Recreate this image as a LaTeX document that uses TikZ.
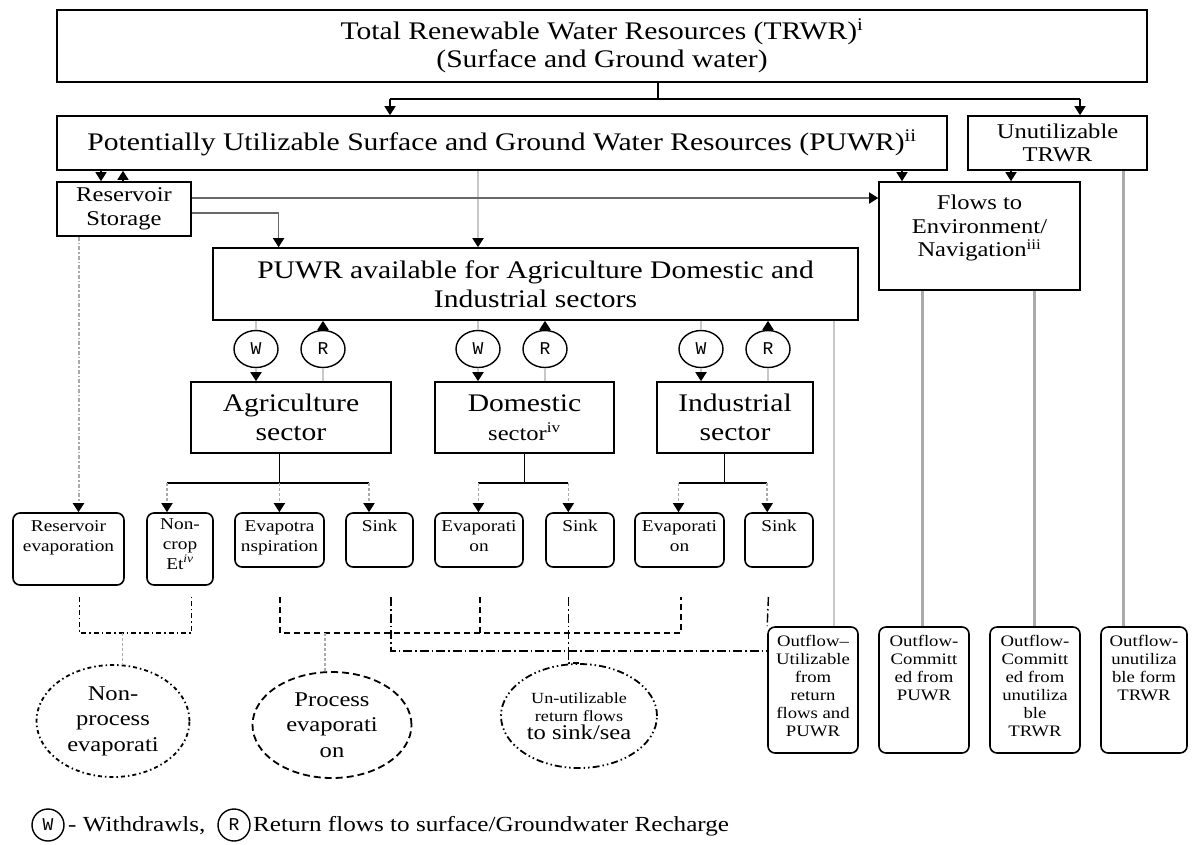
\documentclass[tikz,border=0pt]{standalone}
\usepackage{fontspec}
\setmainfont{Liberation Serif}[FakeStretch=1.17]
\newfontfamily\wrfont{Liberation Mono}
\usetikzlibrary{arrows.meta,shapes.geometric,calc}
\definecolor{lightg}{RGB}{200,200,200}
\definecolor{midg}{RGB}{170,170,170}
\definecolor{darkg}{RGB}{105,105,105}
\newcommand{\fbig}{\fontsize{25.3}{28.5}\selectfont}
\newcommand{\fmed}{\fontsize{21}{23.5}\selectfont}
\newcommand{\fsml}{\fontsize{16.5}{20}\selectfont}
\newcommand{\fout}{\fontsize{16}{18}\selectfont}
\newcommand{\fell}{\fontsize{21}{25.5}\selectfont}
\newcommand{\ftin}{\fontsize{15.5}{18}\selectfont}
\newcommand{\flgd}{\fontsize{21.5}{22}\selectfont}
\begin{document}
\begin{tikzpicture}[x=1pt,y=-1pt,
  box/.style={draw,line width=1.6pt,inner sep=0pt,align=center},
  rbox/.style={draw,line width=1.6pt,rounded corners=7pt,inner sep=0pt},
  txt/.style={inner sep=0pt,align=center},
  wr/.style={draw,ellipse,line width=1.4pt,minimum width=44pt,minimum height=37pt,inner sep=0pt,font=\wrfont\fontsize{18}{18}\selectfont},
  arr/.style={-{Triangle[width=11pt,length=9pt,color=black,fill=black]}},
  conn/.style={line width=1.4pt},
  lg/.style={draw=lightg,line width=1.8pt},
  mg/.style={draw=midg,line width=3pt},
  dg/.style={draw=darkg,line width=1.6pt},
  drop/.style={draw=midg,line width=1.6pt,dash pattern=on 3pt off 2pt},
  resl/.style={draw=midg,line width=2pt,dash pattern=on 4pt off 2pt on 1.5pt off 2pt},
  gdot/.style={draw=midg,line width=1.8pt,dash pattern=on 3pt off 2pt},
  ndash/.style={line width=1.4pt,dash pattern=on 5pt off 3pt on 1.5pt off 3pt},
  pdash/.style={line width=1.4pt,dash pattern=on 6pt off 4pt},
  sdash/.style={line width=1.4pt,dash pattern=on 9pt off 3pt on 1.5pt off 3pt},
  ell/.style={draw,ellipse,line width=1.8pt,inner sep=0pt,align=center}
]
\useasboundingbox (0,0) rectangle (1201,844);
\fill[white] (0,0) rectangle (1201,844);

% ---------- main boxes ----------
\node[box,font=\fbig,minimum width=1090pt,minimum height=72pt] (trwr) at (602,46)
  {Total Renewable Water Resources (TRWR)\textsuperscript{i}\\(Surface and Ground water)};
\node[box,font=\fbig,minimum width=890pt,minimum height=54pt] (puwr) at (502,143)
  {Potentially Utilizable Surface and Ground Water Resources (PUWR)\textsuperscript{ii}};
\node[box,font=\fmed,minimum width=179pt,minimum height=54pt] (unutil) at (1057.5,143)
  {Unutilizable\\TRWR};
\node[box,font=\fmed,minimum width=134pt,minimum height=54pt] (res) at (124,209)
  {Reservoir\\Storage};
\node[box,minimum width=201pt,minimum height=108pt] (flows) at (979.5,236) {};
\node[txt,font=\fmed,anchor=north] (flowst) at (979.5,195)
  {Flows to\\Environment/\\Navigation\textsuperscript{iii}};
\node[box,font=\fbig,minimum width=645pt,minimum height=72pt] (avail) at (535.5,284)
  {PUWR available for Agriculture Domestic and\\Industrial sectors};

% ---------- W / R ----------
\node[wr] (w1) at (256,349) {W};
\node[wr] (r1) at (323,349) {R};
\node[wr] (w2) at (478,349) {W};
\node[wr] (r2) at (545,349) {R};
\node[wr] (w3) at (701,349) {W};
\node[wr] (r3) at (768,349) {R};

% ---------- sectors ----------
\node[box,font=\fbig,minimum width=200pt,minimum height=71pt] (agri) at (291,417.5)
  {Agriculture\\sector};
\node[box,font=\fbig,minimum width=179pt,minimum height=71pt] (dom) at (524.5,417.5)
  {Domestic\\{\fmed sector\textsuperscript{iv}}};
\node[box,font=\fbig,minimum width=156pt,minimum height=71pt] (ind) at (735,417.5)
  {Industrial\\sector};

% ---------- bottom boxes ----------
\node[rbox,minimum width=111pt,minimum height=72pt] (resev) at (68.5,549) {};
\node[rbox,minimum width=66pt,minimum height=72pt] (noncrop) at (180,549) {};
\node[rbox,minimum width=89pt,minimum height=54pt] (evapotra) at (279.5,540) {};
\node[rbox,minimum width=67pt,minimum height=54pt] (sinka) at (379.5,540) {};
\node[rbox,minimum width=88pt,minimum height=54pt] (evapd) at (479,540) {};
\node[rbox,minimum width=68pt,minimum height=54pt] (sinkd) at (580,540) {};
\node[rbox,minimum width=89pt,minimum height=54pt] (evapi) at (679.5,540) {};
\node[rbox,minimum width=68pt,minimum height=54pt] (sinki) at (779,540) {};
\node[txt,font=\fsml,anchor=north] (resevt) at ($(resev.north)+(0,8)$) {Reservoir\\evaporation};
\node[txt,font=\fsml,anchor=north] (noncropt) at ($(noncrop.north)+(0,6)$) {Non-\\crop\\Et\textsuperscript{\itshape iv}};
\node[txt,font=\fsml,anchor=north] (evapotrat) at ($(evapotra.north)+(0,8)$) {Evapotra\\nspiration};
\node[txt,font=\fsml,anchor=north] (sinkat) at ($(sinka.north)+(0,8)$) {Sink};
\node[txt,font=\fsml,anchor=north] (evapdt) at ($(evapd.north)+(0,8)$) {Evaporati\\on};
\node[txt,font=\fsml,anchor=north] (sinkdt) at ($(sinkd.north)+(0,8)$) {Sink};
\node[txt,font=\fsml,anchor=north] (evapit) at ($(evapi.north)+(0,8)$) {Evaporati\\on};
\node[txt,font=\fsml,anchor=north] (sinkit) at ($(sinki.north)+(0,8)$) {Sink};

% ---------- outflow boxes ----------
\node[rbox,minimum width=90pt,minimum height=126pt] (of1) at (813,690) {};
\node[rbox,minimum width=90pt,minimum height=126pt] (of2) at (924,690) {};
\node[rbox,minimum width=90pt,minimum height=126pt] (of3) at (1035,690) {};
\node[rbox,minimum width=86pt,minimum height=126pt] (of4) at (1144,690) {};
\node[txt,font=\fout,anchor=north] (of1t) at ($(of1.north)+(0,9)$) {Outflow--\\Utilizable\\from\\return\\flows and\\PUWR};
\node[txt,font=\fout,anchor=north] (of2t) at ($(of2.north)+(0,9)$) {Outflow-\\Committ\\ed from\\PUWR};
\node[txt,font=\fout,anchor=north] (of3t) at ($(of3.north)+(0,9)$) {Outflow-\\Committ\\ed from\\unutiliza\\ble\\TRWR};
\node[txt,font=\fout,anchor=north] (of4t) at ($(of4.north)+(0,9)$) {Outflow-\\unutiliza\\ble form\\TRWR};

% ---------- ellipses ----------
\node[ell,font=\fell,dash pattern=on 4pt off 3pt on 1.5pt off 3pt,minimum width=153pt,minimum height=112pt] (nonproc) at (113,721)
  {Non-\\process\\evaporati};
\node[ell,font=\fell,dash pattern=on 7pt off 4pt,minimum width=159pt,minimum height=106pt] (proc) at (332,725)
  {Process\\evaporati\\on};
\node[ell,font=\ftin,dash pattern=on 7pt off 3pt on 1.5pt off 3pt on 1.5pt off 3pt,minimum width=156pt,minimum height=104pt] (unret) at (579,716)
  {Un-utilizable\\return flows\\{\fmed to sink/sea}};

% ---------- legend ----------
\node[wr,minimum width=32pt,minimum height=32pt] (lw) at (48,825) {W};
\node[txt,font=\flgd,anchor=west] (lwt) at (68,826) {- Withdrawls,};
\node[wr,minimum width=32pt,minimum height=32pt] (lr) at (234,825) {R};
\node[txt,font=\flgd,anchor=west] (lrt) at (253,826) {Return flows to surface/Groundwater Recharge};

% ---------- helper coordinates ----------
\coordinate (tsplit) at (658,99);
\coordinate (t1) at (390,99);
\coordinate (t2) at (1080,99);
\coordinate (xa) at (101,0);
\coordinate (xb) at (123,0);
\coordinate (xc) at (478,0);
\coordinate (xd) at (902,0);
\coordinate (xe) at (1011,0);
\coordinate (ya) at (0,198);
\coordinate (yb) at (0,213);
\coordinate (xf) at (278.6,0);
\coordinate (xg) at (834,0);
\coordinate (xh) at (922.6,0);
\coordinate (xi) at (1034.4,0);
\coordinate (xj) at (1123.5,0);
\coordinate (xk) at (78.5,0);

% ---------- top connectors ----------
\draw[conn] (trwr.south -| tsplit) -- (tsplit);
\draw[conn] (t1) -- (t2);
\draw[conn,arr] (t1) -- (puwr.north -| t1);
\draw[conn,arr] (t2) -- (unutil.north -| t2);
\draw[conn,arr] (puwr.south -| xa) -- (res.north -| xa);
\draw[conn,arr] (res.north -| xb) -- (puwr.south -| xb);
\draw[lg,arr] (puwr.south -| xc) -- (avail.north -| xc);
\draw[conn,arr] (puwr.south -| xd) -- (flows.north -| xd);
\draw[conn,arr] (unutil.south -| xe) -- (flows.north -| xe);
\draw[dg,arr] (res.east |- ya) -- (flows.west |- ya);
\draw[dg,arr] (res.east |- yb) -| (avail.north -| xf);

% ---------- outflow feeders ----------
\draw[lg] (avail.south -| xg) -- (of1.north -| xg);
\draw[mg] (flows.south -| xh) -- (of2.north -| xh);
\draw[mg] (flows.south -| xi) -- (of3.north -| xi);
\draw[mg] (unutil.south -| xj) -- (of4.north -| xj);

% ---------- W / R connectors ----------
\foreach \w/\r/\s in {w1/r1/agri, w2/r2/dom, w3/r3/ind}{
  \draw[lg] (avail.south -| \w) -- (\w.north);
  \draw[lg,arr] (\w.south) -- (\s.north -| \w);
  \draw[lg] (\s.north -| \r) -- (\r.south);
  \draw[lg,arr] (\r.north) -- (avail.south -| \r);
}

% ---------- sector trunks ----------
\coordinate (ja) at (279.4,483); \coordinate (ja1) at (167,483); \coordinate (ja2) at (369,483);
\coordinate (jd) at (524.3,483); \coordinate (jd1) at (478.4,483); \coordinate (jd2) at (568.3,483);
\coordinate (ji) at (724.4,483); \coordinate (ji1) at (678.5,483); \coordinate (ji2) at (767.2,483);
\draw[conn] (agri.south -| ja) -- (ja);
\draw[conn] (ja1) -- (ja2);
\draw[drop,arr] (ja1) -- (noncrop.north -| ja1);
\draw[drop,arr] (ja) -- (evapotra.north -| ja);
\draw[drop,arr] (ja2) -- (sinka.north -| ja2);
\draw[conn] (dom.south -| jd) -- (jd);
\draw[conn] (jd1) -- (jd2);
\draw[drop,arr] (jd1) -- (evapd.north -| jd1);
\draw[drop,arr] (jd2) -- (sinkd.north -| jd2);
\draw[conn] (ind.south -| ji) -- (ji);
\draw[conn] (ji1) -- (ji2);
\draw[drop,arr] (ji1) -- (evapi.north -| ji1);
\draw[drop,arr] (ji2) -- (sinki.north -| ji2);
\draw[resl,arr] (res.south -| xk) -- (resev.north -| xk);

% ---------- bottom collectors ----------
\coordinate (n1) at (79.6,597); \coordinate (n2) at (191.4,597);
\coordinate (n3) at (79.6,633); \coordinate (n4) at (191.4,633);
\coordinate (nm) at (122.5,633);
\draw[ndash] (n1) -- (n3) -- (n4) -- (n2);
\draw[gdot] (nm) -- (nonproc.north -| nm);

\coordinate (p1) at (280,597); \coordinate (p2) at (480,597); \coordinate (p3) at (681,597);
\coordinate (pm) at (325,633);
\draw[pdash] (p1) -- (p1 |- n3) -- (p3 |- n3) -- (p3);
\draw[pdash] (p2) -- (p2 |- n3);
\draw[gdot] (pm) -- (proc.north -| pm);

\coordinate (s1) at (391,597); \coordinate (s2) at (568.5,597); \coordinate (s3) at (768.4,597);
\coordinate (sh) at (0,651);
\draw[sdash] (s1) -- (s1 |- sh) -- (of1.west |- sh);
\draw[sdash] (s2) -- (s2 |- sh);
\draw[sdash] (s2 |- sh) -- (s2 |- unret.north) -- (unret.north);
\draw[sdash] (s3) -- (of1.north west);
\end{tikzpicture}
\end{document}
